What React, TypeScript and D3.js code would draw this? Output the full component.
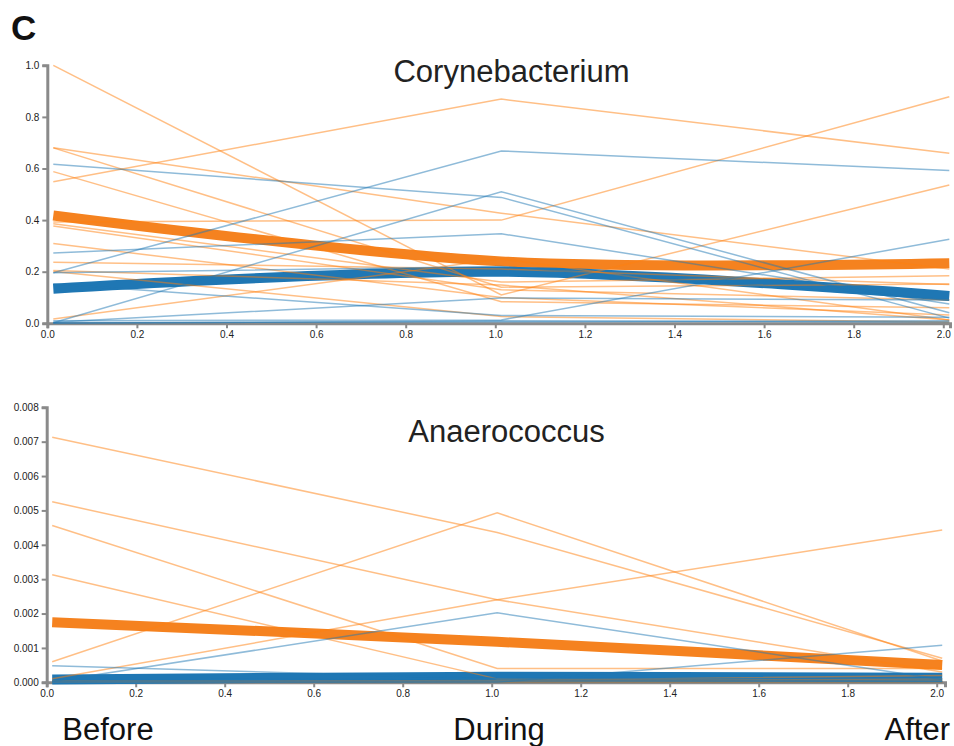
import React, { useEffect, useRef } from "react";
import * as d3 from "d3";

// Sampling phases (x = 0, 1, 2)
const timepoints = [0, 1, 2];
const phaseLabels = ["Before", "During", "After"];

// Corynebacterium relative abundance per subject: [before, during, after]
const coryneOrange = [
  [1.0, 0.11, 0.536],
  [0.549, 0.869, 0.659],
  [0.393, 0.4, 0.878],
  [0.68, 0.427, 0.21],
  [0.68, 0.14, 0.152],
  [0.588, 0.084, 0.06],
  [0.386, 0.16, 0.184],
  [0.377, 0.13, 0.09],
  [0.309, 0.1, 0.032],
  [0.237, 0.21, 0.15],
  [0.205, 0.148, 0.013],
  [0.201, 0.026, 0.005],
  [0.017, 0.25, 0.013],
];
const coryneBlue = [
  [0.616, 0.488, 0.02],
  [0.196, 0.668, 0.592],
  [0.002, 0.51, 0.041],
  [0.272, 0.347, 0.075],
  [0.196, 0.22, 0.09],
  [0.153, 0.03, 0.023],
  [0.01, 0.013, 0.326],
  [0.004, 0.098, 0.09],
  [0.002, 0.006, 0.01],
  [0.0, 0.01, 0.005],
];
const coryneOrangeMean = [0.418, 0.24, 0.233];
const coryneBlueMean = [0.134, 0.2, 0.106];

// Anaerococcus relative abundance per subject: [before, during, after]
const anaeroOrange = [
  [0.00713, 0.00436, 0.0007],
  [0.00525, 0.0024, 0.0003],
  [0.00456, 0.0004, 0.0004],
  [0.00313, 0.0001, 0.00002],
  [0.0006, 0.00493, 0.00062],
  [0.0001, 0.0024, 0.00443],
  [0.00004, 0.00002, 0.0001],
  [0.00002, 0.00005, 0.0002],
  [0.00001, 0.00001, 0.00001],
  [0.0, 0.00003, 0.0],
  [0.00003, 0.0, 0.00005],
  [0.0, 0.00001, 0.00002],
];
const anaeroBlue = [
  [0.00048, 0.0001, 0.00003],
  [0.00002, 0.00202, 0.00008],
  [0.0, 0.0, 0.00108],
  [0.00005, 0.00012, 0.0001],
  [0.00003, 0.00006, 0.00002],
  [0.00001, 0.00002, 0.00004],
  [0.0, 0.00001, 0.00001],
];
const anaeroOrangeMean = [0.00175, 0.00118, 0.0005];
const anaeroBlueMean = [0.00008, 0.00016, 0.00013];

const ORANGE = "#ff7f0e";
const BLUE = "#1f77b4";
const ORANGE_MEAN = "#f5821f";
const FONT = "'Liberation Sans', Arial, Helvetica, sans-serif";

type Panel = {
  title: string;
  orange: number[][];
  blue: number[][];
  orangeMean: number[];
  blueMean: number[];
  yMax: number;
  yStep: number;
  yFmt: string;
  yTop: number;
  yBottom: number;
  x0: number;
  x2: number;
  axisEnd: number;
  shift: number;
  titleX: number;
  titleY: number;
};

const panels: Panel[] = [
  {
    title: "Corynebacterium",
    orange: coryneOrange,
    blue: coryneBlue,
    orangeMean: coryneOrangeMean,
    blueMean: coryneBlueMean,
    yMax: 1,
    yStep: 0.2,
    yFmt: ".1f",
    yTop: 65.3,
    yBottom: 323.3,
    x0: 47.3,
    x2: 943.3,
    axisEnd: 950,
    shift: 6,
    titleX: 511.5,
    titleY: 82,
  },
  {
    title: "Anaerococcus",
    orange: anaeroOrange,
    blue: anaeroBlue,
    orangeMean: anaeroOrangeMean,
    blueMean: anaeroBlueMean,
    yMax: 0.008,
    yStep: 0.001,
    yFmt: ".3f",
    yTop: 407.3,
    yBottom: 682.3,
    x0: 46.7,
    x2: 936.7,
    axisEnd: 945,
    shift: 5.5,
    titleX: 506.5,
    titleY: 442,
  },
];

export default function App() {
  const ref = useRef<SVGSVGElement | null>(null);

  useEffect(() => {
    const svg = d3.select(ref.current);
    svg.selectAll("*").remove();

    panels.forEach((p) => {
      const g = svg.append("g");
      const xMaxDomain = (2 * (p.axisEnd - p.x0)) / (p.x2 - p.x0);
      const x = d3.scaleLinear().domain([0, xMaxDomain]).range([p.x0, p.axisEnd]);
      const y = d3.scaleLinear().domain([0, p.yMax]).range([p.yBottom, p.yTop]);

      const xTicks = d3.range(0, 2.0001, 0.2);
      const yTicks = d3.range(0, p.yMax * 1.0001, p.yStep);

      const xAxis = g
        .append("g")
        .attr("transform", `translate(0,${p.yBottom})`)
        .call(d3.axisBottom(x).tickValues(xTicks).tickFormat(d3.format(".1f")).tickSizeOuter(0).tickSize(5));
      const yAxis = g
        .append("g")
        .attr("transform", `translate(${p.x0},0)`)
        .call(d3.axisLeft(y).tickValues(yTicks).tickFormat(d3.format(p.yFmt)).tickSizeOuter(0).tickSize(5));

      [xAxis, yAxis].forEach((ax) => {
        ax.select(".domain").attr("stroke", "#8a8a8a").attr("stroke-width", 3);
        ax.selectAll(".tick line").attr("stroke", "#8a8a8a").attr("stroke-width", 2);
        ax.selectAll(".tick text")
          .attr("fill", "#222")
          .style("font-family", FONT)
          .style("font-size", "10px");
      });

      const line = d3
        .line<number>()
        .x((_, i) => x(timepoints[i]) + p.shift)
        .y((d) => y(d));
      const meanLine = d3
        .line<number>()
        .x((_, i) => x(timepoints[i]) + p.shift)
        .y((d) => y(d))
        .curve(d3.curveCardinal);

      g.append("path")
        .attr("d", meanLine(p.orangeMean))
        .attr("fill", "none")
        .attr("stroke", ORANGE_MEAN)
        .attr("stroke-width", 10);
      g.append("path")
        .attr("d", meanLine(p.blueMean))
        .attr("fill", "none")
        .attr("stroke", BLUE)
        .attr("stroke-width", 10);

      g.append("g")
        .selectAll("path")
        .data(p.orange)
        .join("path")
        .attr("d", (d) => line(d))
        .attr("fill", "none")
        .attr("stroke", ORANGE)
        .attr("stroke-opacity", 0.5)
        .attr("stroke-width", 1.5);
      g.append("g")
        .selectAll("path")
        .data(p.blue)
        .join("path")
        .attr("d", (d) => line(d))
        .attr("fill", "none")
        .attr("stroke", BLUE)
        .attr("stroke-opacity", 0.5)
        .attr("stroke-width", 1.5);

      g.append("text")
        .attr("x", p.titleX)
        .attr("y", p.titleY)
        .attr("text-anchor", "middle")
        .attr("fill", "#222")
        .style("font-family", FONT)
        .style("font-size", "31px")
        .text(p.title);
    });

    // Phase labels along the bottom
    const phaseX = [108, 499, 950];
    const anchors = ["middle", "middle", "end"];
    svg
      .append("g")
      .selectAll("text")
      .data(phaseLabels)
      .join("text")
      .attr("x", (_, i) => phaseX[i])
      .attr("y", 740)
      .attr("text-anchor", (_, i) => anchors[i])
      .attr("fill", "#111")
      .style("font-family", FONT)
      .style("font-size", "31px")
      .text((d) => d);

    svg
      .append("text")
      .attr("x", 11)
      .attr("y", 40)
      .attr("fill", "#111")
      .style("font-family", FONT)
      .style("font-size", "35px")
      .style("font-weight", "bold")
      .text("C");
  }, []);

  return (
    <svg
      ref={ref}
      width={954}
      height={746}
      style={{ position: "absolute", left: 0, top: 0, background: "#fff" }}
    />
  );
}
